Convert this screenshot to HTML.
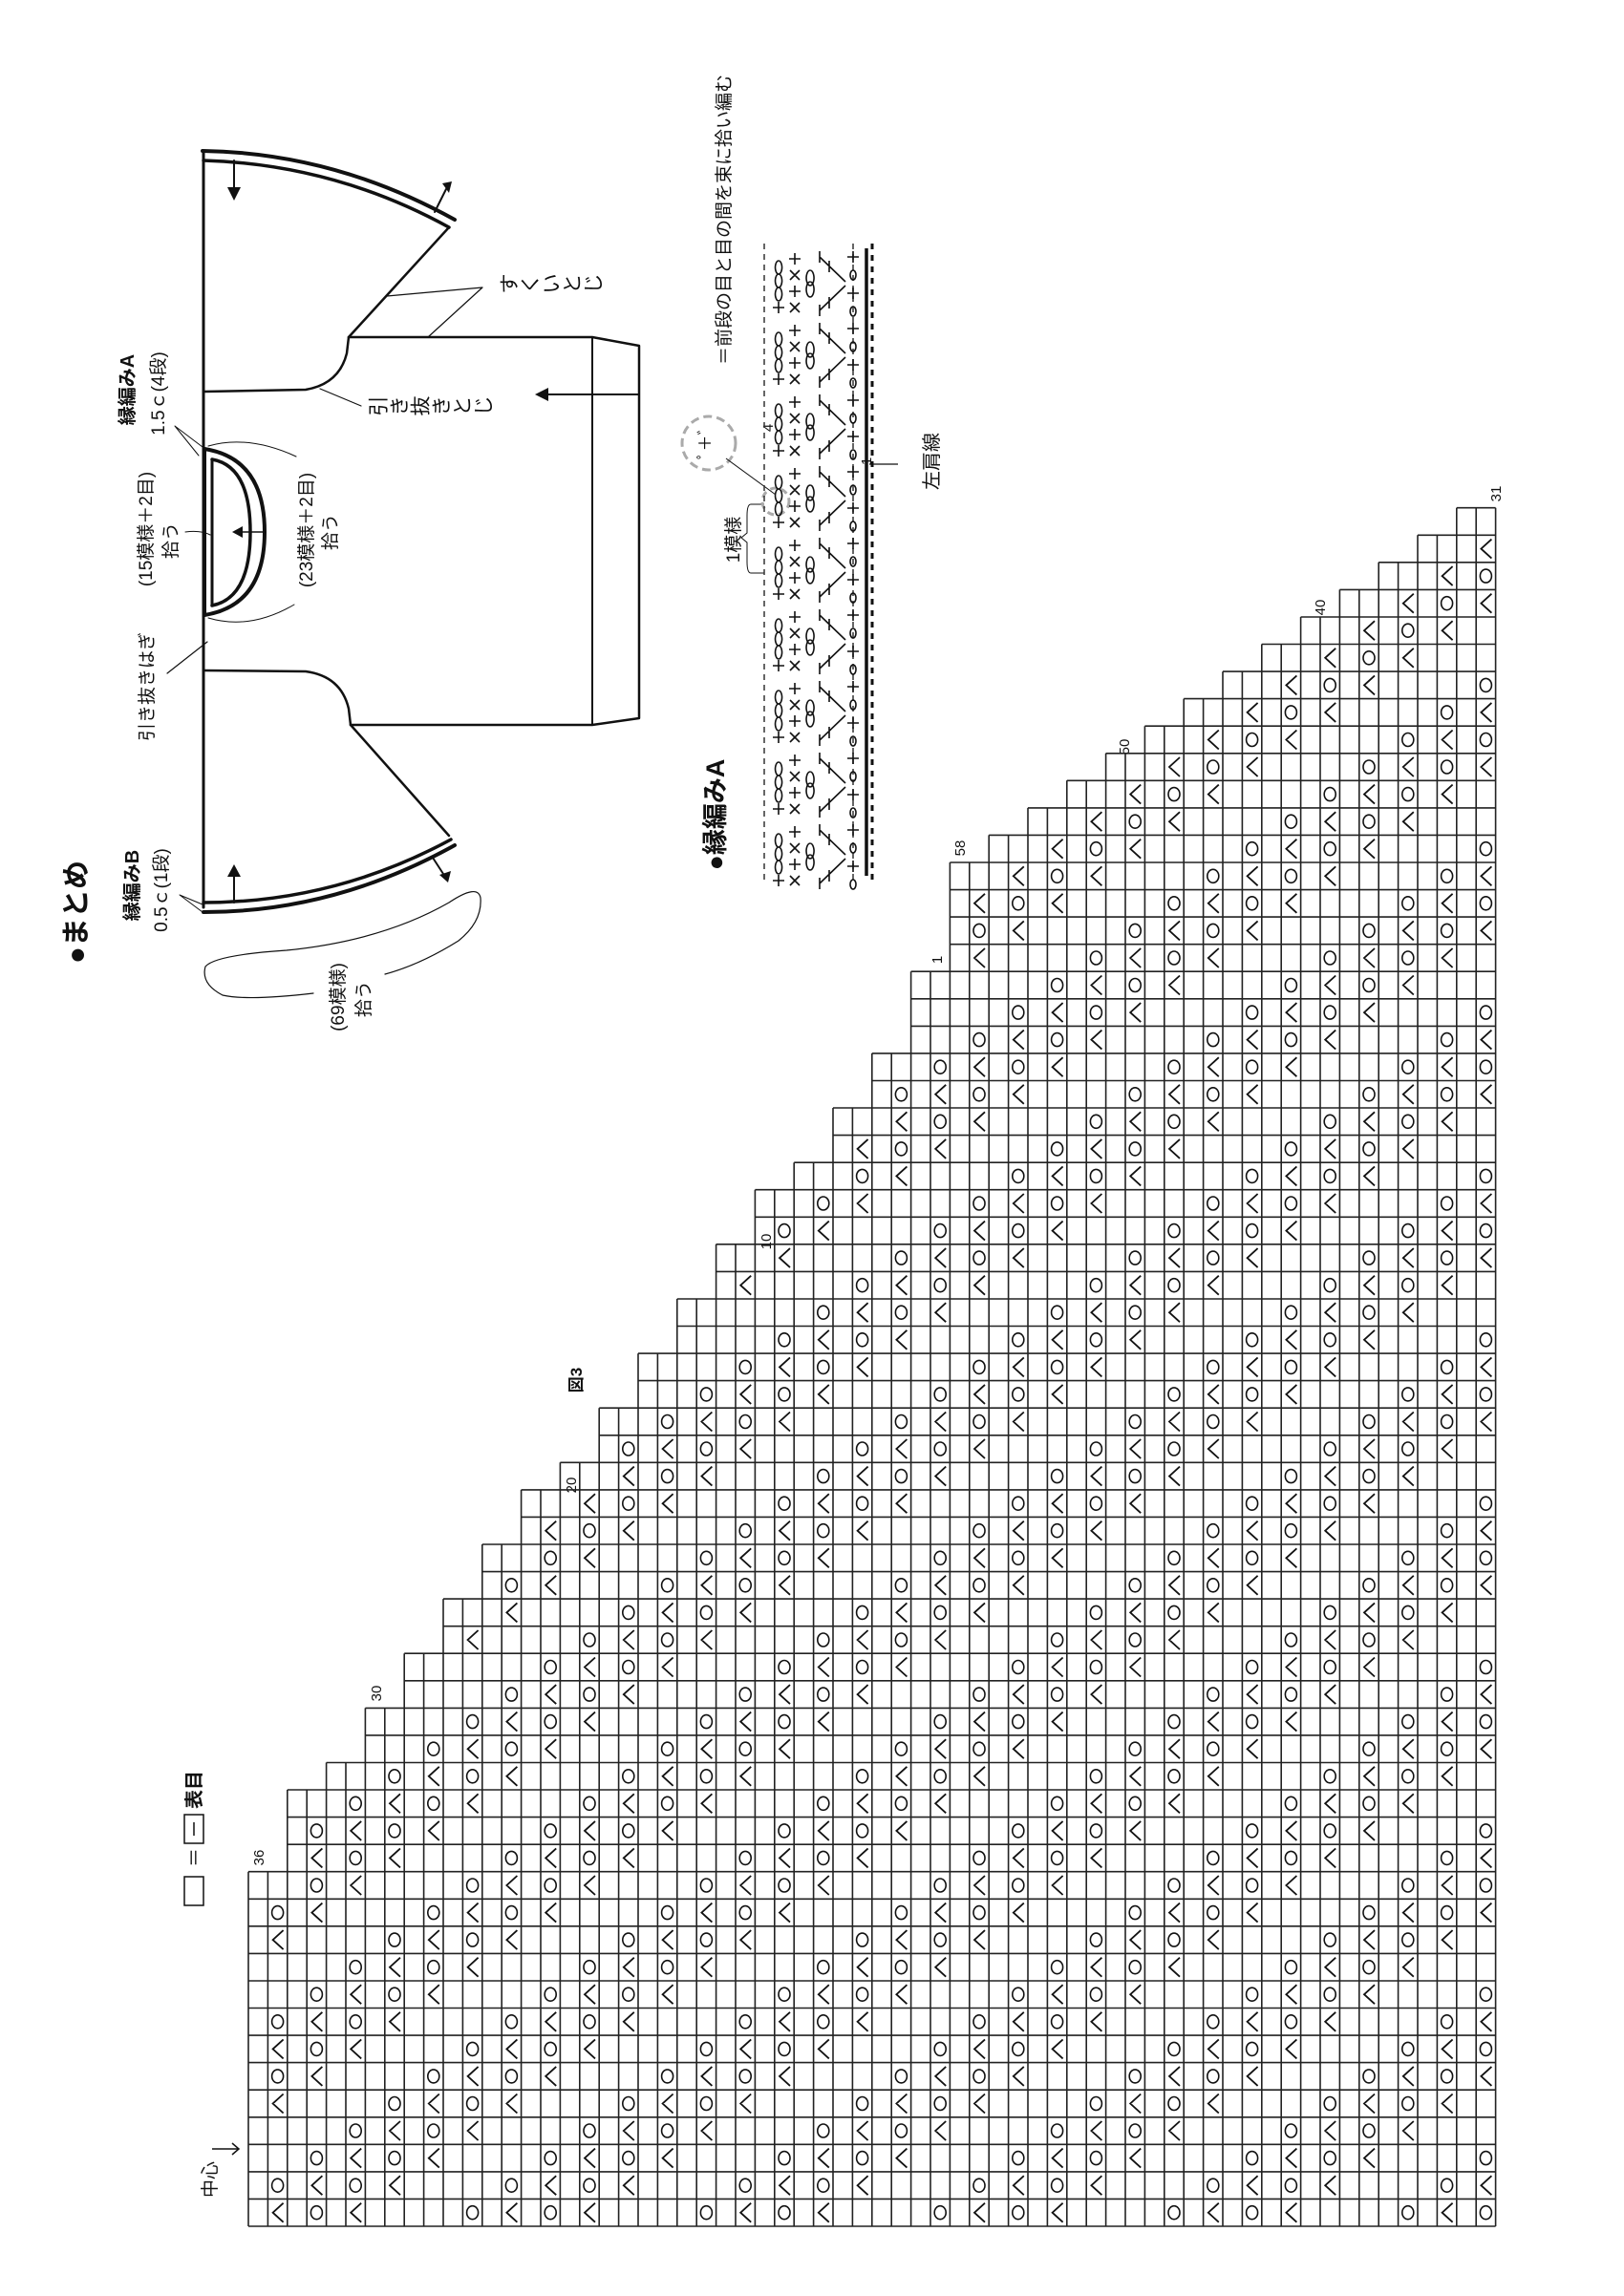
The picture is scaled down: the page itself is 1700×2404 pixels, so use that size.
<!DOCTYPE html>
<html><head><meta charset="utf-8">
<style>
html,body{margin:0;padding:0;background:#fff;}
svg{display:block;}
text{font-family:"Liberation Sans","Noto Sans CJK JP",sans-serif;fill:#111;}
</style></head>
<body>
<svg id="s" xmlns="http://www.w3.org/2000/svg" width="1700" height="2404" viewBox="0 0 1700 2404">
<rect width="1700" height="2404" fill="#fff"/>

<g fill="none" stroke="#111" stroke-linecap="round" stroke-linejoin="round">
  <line x1="213" y1="160" x2="213" y2="950" stroke-width="3"/>
  <path d="M212 158 Q350 160 476 230" stroke-width="4"/>
  <path d="M213 168 Q350 172 470 238" stroke-width="3.5"/>
  <path d="M470 238 L365 353" stroke-width="2.5"/>
  <path d="M365 353 L363 370 Q355 402 320 408 L214 410" stroke-width="2.5"/>
  <path d="M365 353 L620 353 L669 362 L669 752 L620 759 L367 759" stroke-width="2.5"/>
  <line x1="620" y1="353" x2="620" y2="759" stroke-width="2"/>
  <path d="M367 759 L365 742 Q357 708 320 703 L214 702" stroke-width="2.5"/>
  <path d="M367 759 L470 875" stroke-width="2.5"/>
  <path d="M472 879 Q350 945 213 945" stroke-width="3.5"/>
  <path d="M476 885 Q350 955 213 955" stroke-width="4"/>
  <path d="M214 470 Q277 480 277 557 Q277 634 214 644" stroke-width="4"/>
  <path d="M222 481 Q262 488 262 557 Q262 626 222 634" stroke-width="3.5"/>
  <path d="M214 470 L214 644" stroke-width="4"/>
  <path d="M222 481 L222 634" stroke-width="3"/>
  <path d="M218 467 Q260 455 310 478" stroke-width="1"/>
  <path d="M218 647 Q262 660 308 633" stroke-width="1"/>
  <path d="M194 557 Q210 555 220 560" stroke-width="1"/>
  <path d="M183 446 L212 468 M183 446 L208 477" stroke-width="1"/>
  <path d="M188 937 L212 947 M188 937 L212 955" stroke-width="1"/>
  <path d="M175 705 L217 672" stroke-width="1.2"/>
  <path d="M505 301 L405 310 M505 301 L448 353" stroke-width="1.2"/>
  <path d="M378 425 L335 407" stroke-width="1.2"/>
  <path d="M328 1040 Q260 1048 233 1042 Q210 1030 215 1012 Q225 1000 300 995 Q400 985 470 945 Q500 925 503 940 Q505 965 480 985 Q440 1010 403 1020" stroke-width="1.2"/>
  <line x1="245" y1="168" x2="245" y2="200" stroke-width="2"/>
  <line x1="455" y1="222" x2="467" y2="198" stroke-width="2"/>
  <line x1="669" y1="413" x2="570" y2="413" stroke-width="2"/>
  <line x1="276" y1="557" x2="252" y2="557" stroke-width="1.5"/>
  <line x1="245" y1="945" x2="245" y2="914" stroke-width="2"/>
  <line x1="453" y1="898" x2="466" y2="918" stroke-width="2"/>
</g>
<g fill="#111">
  <polygon points="238,196 252,196 245,210"/>
  <polygon points="463,192 473,190 470,202"/>
  <polygon points="560,413 574,406 574,420"/>
  <polygon points="243,557 254,551 254,563"/>
  <polygon points="245,905 238,918 252,918"/>
  <polygon points="469,924 460,916 472,912"/>
</g>

<text transform="translate(90,955) rotate(-90)" text-anchor="middle" font-size="30" font-weight="bold">●まとめ</text>
<text transform="translate(145,927) rotate(-90)" text-anchor="middle" font-size="20" font-weight="bold">縁編みB</text>
<text transform="translate(175,932) rotate(-90)" text-anchor="middle" font-size="19">0.5ｃ(1段)</text>
<text transform="translate(360,1044) rotate(-90)" text-anchor="middle" font-size="19">(69模様)</text>
<text transform="translate(387,1046) rotate(-90)" text-anchor="middle" font-size="19">拾う</text>
<text transform="translate(160,719) rotate(-90)" text-anchor="middle" font-size="19">引き抜きはぎ</text>
<text transform="translate(159,554) rotate(-90)" text-anchor="middle" font-size="19">(15模様＋2目)</text>
<text transform="translate(185,566) rotate(-90)" text-anchor="middle" font-size="19">拾う</text>
<text transform="translate(140,408) rotate(-90)" text-anchor="middle" font-size="20" font-weight="bold">縁編みA</text>
<text transform="translate(172,412) rotate(-90)" text-anchor="middle" font-size="19">1.5ｃ(4段)</text>
<text transform="translate(327,555) rotate(-90)" text-anchor="middle" font-size="19">(23模様＋2目)</text>
<text transform="translate(352,557) rotate(-90)" text-anchor="middle" font-size="19">拾う</text>
<g font-size="21" text-anchor="middle">
<text transform="translate(534,297) rotate(-90)" dominant-baseline="central">す</text>
<text transform="translate(556,297) rotate(-90)" dominant-baseline="central">く</text>
<text transform="translate(578,297) rotate(-90)" dominant-baseline="central">い</text>
<text transform="translate(600,297) rotate(-90)" dominant-baseline="central">と</text>
<text transform="translate(622,297) rotate(-90)" dominant-baseline="central">じ</text>
<text transform="translate(397,425) rotate(-90)" dominant-baseline="central">引</text>
<text transform="translate(419,425) rotate(-90)" dominant-baseline="central">き</text>
<text transform="translate(441,425) rotate(-90)" dominant-baseline="central">抜</text>
<text transform="translate(463,425) rotate(-90)" dominant-baseline="central">き</text>
<text transform="translate(485,425) rotate(-90)" dominant-baseline="central">と</text>
<text transform="translate(507,425) rotate(-90)" dominant-baseline="central">じ</text>
</g>

<text transform="translate(758,853) rotate(-90)" text-anchor="middle" font-size="27" font-weight="bold">●縁編みA</text>
<text transform="translate(764,230) rotate(-90)" text-anchor="middle" font-size="19">＝前段の目と目の間を束に拾い編む</text>
<circle cx="742" cy="464" r="28" fill="none" stroke="#aaa" stroke-width="3" stroke-dasharray="9 5"/>
<text transform="translate(744,464) rotate(-90)" text-anchor="middle" font-size="17">ﾟ＋ﾞ</text>
<line x1="760" y1="480" x2="812" y2="518" stroke="#111" stroke-width="1"/>
<text transform="translate(774,565) rotate(-90)" text-anchor="middle" font-size="19">1模様</text>
<path d="M800 528 L786 528 Q782 528 782 540 L782 558 L776 563 L782 568 L782 588 Q782 600 786 600 L800 600" fill="none" stroke="#111" stroke-width="1"/>
<circle cx="812" cy="525" r="14" fill="none" stroke="#aaa" stroke-width="3" stroke-dasharray="7 5"/>
<text transform="translate(809,448) rotate(-90)" text-anchor="middle" font-size="15">4</text>
<text transform="translate(912,483) rotate(-90)" text-anchor="middle" font-size="15">1</text>
<text transform="translate(982,483) rotate(-90)" text-anchor="middle" font-size="20">左肩線</text>
<line x1="910" y1="486" x2="940" y2="486" stroke="#111" stroke-width="1.2"/>
<g id="crochet"></g>

<text transform="translate(609,1445) rotate(-90)" text-anchor="middle" font-size="17" font-weight="bold">図3</text>
<rect x="193" y="1965" width="20" height="30" fill="none" stroke="#111" stroke-width="1.5"/>
<text transform="translate(210,1945) rotate(-90)" text-anchor="middle" font-size="20">＝</text>
<rect x="193" y="1900" width="20" height="30" fill="none" stroke="#111" stroke-width="1.5"/>
<line x1="203" y1="1908" x2="203" y2="1922" stroke="#111" stroke-width="1.5"/>
<text transform="translate(210,1874) rotate(-90)" text-anchor="middle" font-size="20" font-weight="bold">表目</text>
<text transform="translate(226,2282) rotate(-90)" text-anchor="middle" font-size="19">中心</text>
<path d="M222 2250 L250 2250 M243 2244 L250 2250 L243 2256" fill="none" stroke="#111" stroke-width="1.5"/>

<text transform="translate(276,1945) rotate(-90)" text-anchor="middle" font-size="15">36</text>
<text transform="translate(399,1773) rotate(-90)" text-anchor="middle" font-size="15">30</text>
<text transform="translate(603,1555) rotate(-90)" text-anchor="middle" font-size="15">20</text>
<text transform="translate(807,1300) rotate(-90)" text-anchor="middle" font-size="15">10</text>
<text transform="translate(986,1005) rotate(-90)" text-anchor="middle" font-size="15">1</text>
<text transform="translate(1010,888) rotate(-90)" text-anchor="middle" font-size="15">58</text>
<text transform="translate(1182,782) rotate(-90)" text-anchor="middle" font-size="15">50</text>
<text transform="translate(1387,636) rotate(-90)" text-anchor="middle" font-size="15">40</text>
<text transform="translate(1571,517) rotate(-90)" text-anchor="middle" font-size="15">31</text>
<g id="grid"></g>
</svg>
<script>
(function(){
var NS="http://www.w3.org/2000/svg";
function el(p,tag,a){var e=document.createElementNS(NS,tag);for(var k in a)e.setAttribute(k,a[k]);p.appendChild(e);return e;}
var g=document.getElementById("grid");
var X0=260,CW=20.4,YB=2331,RH=28.56,NC=64;
var pts=[[0,13],[2,16],[4,17],[6,19],[8,21],[32,43],[34,46],[36,50],[38,51],[59,61],[60,62],[62,63],[63,63]];
function H(c){
  for(var i=0;i<pts.length-1;i++){var a=pts[i],b=pts[i+1];
    if(c>=a[0]&&c<=b[0]){ if(c===a[0])return a[1]; if(c===b[0])return b[1];
      var cc=c-((c-a[0])%2);
      if(cc<a[0])cc=a[0];
      return Math.round(a[1]+(b[1]-a[1])*(cc-a[0])/(b[0]-a[0]));}}
  return 63;}
var hs=[];for(var c=0;c<NC;c++)hs.push(H(c));
for(var c=1;c<NC;c++)if(hs[c]<hs[c-1])hs[c]=hs[c-1];
var d="";
for(var c=0;c<=NC;c++){var h=(c===NC)?hs[NC-1]:hs[c];var x=X0+c*CW;d+="M"+x.toFixed(1)+" "+YB+"V"+(YB-h*RH).toFixed(1);}
var maxh=hs[NC-1];
for(var j=0;j<=maxh;j++){var c0=0;while(c0<NC&&hs[c0]<j)c0++;if(c0>=NC)continue;var y=YB-j*RH;d+="M"+(X0+c0*CW).toFixed(1)+" "+y.toFixed(1)+"H"+(X0+NC*CW).toFixed(1);}
el(g,"path",{d:d,fill:"none",stroke:"#222","stroke-width":"1.6"});
var sd="",cd="";
for(var c=1;c<NC;c+=2){var k=(c-1)/2;
  for(var r=0;r<hs[c]-1;r++){
    var m=((k-r)%6+6)%6;
    if(!(m===5||m===0||m===1||m===2))continue;
    var cx=X0+c*CW+CW/2,cy=YB-r*RH-RH/2;
    if((k+r)%2===0){sd+="M"+(cx+6).toFixed(1)+" "+(cy-10).toFixed(1)+"L"+(cx-5).toFixed(1)+" "+cy.toFixed(1)+"L"+(cx+6).toFixed(1)+" "+(cy+10).toFixed(1);}
    else{cd+="M"+(cx-6).toFixed(1)+" "+cy.toFixed(1)+"a6 7 0 1 0 12 0a6 7 0 1 0 -12 0";}
  }}
el(g,"path",{d:sd,fill:"none",stroke:"#111","stroke-width":"1.8"});
el(g,"path",{d:cd,fill:"none",stroke:"#111","stroke-width":"1.6"});
var cg=document.getElementById("crochet");
var dd="",dl="";
var Y1=255,Y2=922;
dl+="M800 "+Y1+"V"+Y2;
dl+="M893 "+Y1+"V"+Y2;
el(cg,"path",{d:dl,fill:"none",stroke:"#333","stroke-width":"1.5","stroke-dasharray":"6 5"});
el(cg,"path",{d:"M907 "+(Y1+5)+"V"+(Y2-5),stroke:"#111","stroke-width":"3.5"});
el(cg,"path",{d:"M913 "+Y1+"V"+Y2,stroke:"#111","stroke-width":"3","stroke-dasharray":"6 6"});
var P=75;
for(var y=Y1+10;y<Y2-20;y+=P){
  for(var i=0;i<3;i++){dd+="M815 "+(y+8+i*14)+"a3.5 7 0 1 0 0.1 0";}
  dd+="M809 "+(y+57)+"H821M815 "+(y+51)+"V"+(y+63);
  for(var i=0;i<4;i++){var yy=y+6+i*17;
    if(i%2===0){dd+="M826 "+yy+"H838M832 "+(yy-6)+"V"+(yy+6);}else{dd+="M827 "+(yy-5)+"L837 "+(yy+5)+"M837 "+(yy-5)+"L827 "+(yy+5);}}
  dd+="M848 "+(y+18)+"a4 8 0 1 0 0.1 0";dd+="M848 "+(y+30)+"a4 8 0 1 0 0.1 0";
  dd+="M858 "+(y+4)+"L885 "+(y+30)+"M858 "+(y+60)+"L885 "+(y+34);
  dd+="M858 "+(y-2)+"V"+(y+10)+"M858 "+(y+54)+"V"+(y+66);
  dd+="M868 "+(y+8)+"V"+(y+20)+"M868 "+(y+46)+"V"+(y+58);
  for(var i=0;i<4;i++){var yy=y+4+i*19;
    if(i%2===0){dd+="M887 "+yy+"H899M893 "+(yy-6)+"V"+(yy+6);}else{dd+="M890 "+yy+"a3 5 0 1 0 6 0a3 5 0 1 0 -6 0";}}
}
el(cg,"path",{d:dd,fill:"none",stroke:"#111","stroke-width":"1.6"});
})();
</script>
</body></html>
